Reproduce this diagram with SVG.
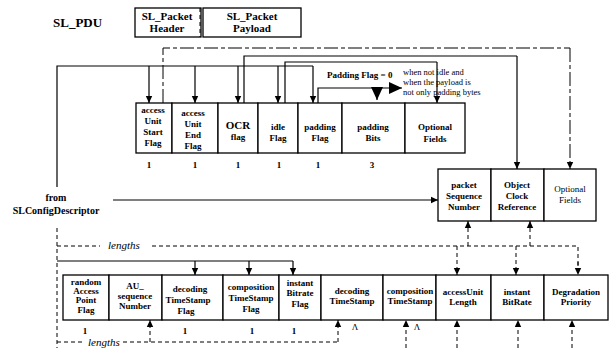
<svg xmlns="http://www.w3.org/2000/svg" width="611" height="348" viewBox="0 0 611 348">
<style>
.bx{fill:#fff;stroke:#000;stroke-width:1.3}
.ln{fill:none;stroke:#000;stroke-width:1.2}
.ds{fill:none;stroke:#000;stroke-width:1;stroke-dasharray:4 3}
.dl{fill:none;stroke:#000;stroke-width:1;stroke-dasharray:14 3 4 3}
.t{font-family:"Liberation Serif",serif;font-size:9px;font-weight:bold;text-anchor:middle;fill:#000}
.n{font-family:"Liberation Serif",serif;font-size:9px;text-anchor:middle;fill:#000}
.it{font-family:"Liberation Serif",serif;font-size:11px;font-style:italic;fill:#000}
</style>
<defs>
<marker id="a" markerUnits="userSpaceOnUse" markerWidth="8" markerHeight="8" refX="7" refY="4" orient="auto"><path d="M0,0.8 L7,4 L0,7.2 Z" fill="#000"/></marker>
<marker id="b" markerUnits="userSpaceOnUse" markerWidth="14" markerHeight="12" refX="13" refY="6" orient="auto"><path d="M0,0 L13,6 L0,12 Z" fill="#000"/></marker>
</defs>

<text x="53" y="27" style="font-family:'Liberation Serif',serif;font-size:13px;font-weight:bold">SL_PDU</text>
<g id="sl_packet_header">
<rect class="bx" x="135" y="8" width="66" height="29"/>
<text class="t" x="167" y="20" style="font-size:11px">SL_Packet</text>
<text class="t" x="167" y="32" style="font-size:11px">Header</text>
</g>
<g id="sl_packet_payload">
<rect class="bx" x="203" y="8" width="98" height="29"/>
<text class="t" x="252" y="20" style="font-size:11px">SL_Packet</text>
<text class="t" x="252" y="32" style="font-size:11px">Payload</text>
</g>

<g id="top_row">
<g id="f_ausf"><rect class="bx" x="136" y="103" width="36" height="50"/>
<text class="t" x="153" y="113">access</text><text class="t" x="153" y="124">Unit</text><text class="t" x="153" y="135">Start</text><text class="t" x="153" y="146">Flag</text></g>
<g id="f_auef"><rect class="bx" x="172" y="103" width="46" height="50"/>
<text class="t" x="193" y="116">access</text><text class="t" x="193" y="127">Unit</text><text class="t" x="193" y="138">End</text><text class="t" x="193" y="149">Flag</text></g>
<g id="f_ocr"><rect class="bx" x="218" y="103" width="40" height="50"/>
<text class="t" x="238" y="129" style="font-size:11px">OCR</text><text class="t" x="238" y="140">flag</text></g>
<g id="f_idle"><rect class="bx" x="258" y="103" width="40" height="50"/>
<text class="t" x="278" y="130">idle</text><text class="t" x="278" y="141">Flag</text></g>
<g id="f_padflag"><rect class="bx" x="298" y="103" width="44" height="50"/>
<text class="t" x="320" y="130">padding</text><text class="t" x="320" y="141">Flag</text></g>
<g id="f_padbits"><rect class="bx" x="342" y="103" width="63" height="50"/>
<text class="t" x="373" y="130">padding</text><text class="t" x="373" y="141">Bits</text></g>
<g id="f_opt1"><rect class="bx" x="405" y="103" width="60" height="50"/>
<text class="t" x="435" y="130">Optional</text><text class="t" x="435" y="142">Fields</text></g>
<text class="t" x="149" y="168">1</text><text class="t" x="195" y="168">1</text><text class="t" x="238" y="168">1</text>
<text class="t" x="279" y="168">1</text><text class="t" x="318" y="168">1</text><text class="t" x="372" y="168">3</text>
</g>

<g id="right_row">
<g id="f_psn"><rect class="bx" x="438" y="169" width="53" height="52"/>
<text class="t" x="464" y="188">packet</text><text class="t" x="464" y="199">Sequence</text><text class="t" x="464" y="210">Number</text></g>
<g id="f_ocref"><rect class="bx" x="491" y="169" width="53" height="52"/>
<text class="t" x="517" y="188">Object</text><text class="t" x="517" y="199">Clock</text><text class="t" x="517" y="210">Reference</text></g>
<g id="f_opt2"><rect class="bx" x="544" y="169" width="52" height="52"/>
<text class="n" x="570" y="192">Optional</text><text class="n" x="570" y="203">Fields</text></g>
</g>

<g id="from_sl">
<text class="t" x="56" y="201" style="font-size:10px">from</text>
<text class="t" x="56" y="214" style="font-size:10px">SLConfigDescriptor</text>
</g>

<g id="bottom_row">
<g id="b_rap"><rect class="bx" x="63" y="275" width="46" height="45"/>
<text class="t" x="86" y="285">random</text><text class="t" x="86" y="294">Access</text><text class="t" x="86" y="303">Point</text><text class="t" x="86" y="313">Flag</text></g>
<g id="b_ausn"><rect class="bx" x="109" y="275" width="53" height="45"/>
<text class="t" x="135" y="289">AU_</text><text class="t" x="135" y="299">sequence</text><text class="t" x="135" y="309">Number</text></g>
<g id="b_dtsf"><rect class="bx" x="162" y="275" width="61" height="45"/>
<text class="t" x="190" y="292">decoding</text><text class="t" x="188" y="303">TimeStamp</text><text class="t" x="186" y="314">Flag</text></g>
<g id="b_ctsf"><rect class="bx" x="223" y="275" width="56" height="45"/>
<text class="t" x="251" y="290">composition</text><text class="t" x="251" y="301">TimeStamp</text><text class="t" x="251" y="312">Flag</text></g>
<g id="b_ibf"><rect class="bx" x="279" y="275" width="42" height="45"/>
<text class="t" x="300" y="286">instant</text><text class="t" x="300" y="296">Bitrate</text><text class="t" x="300" y="307">Flag</text></g>
<g id="b_dts"><rect class="bx" x="321" y="275" width="62" height="45"/>
<text class="t" x="352" y="294">decoding</text><text class="t" x="352" y="304">TimeStamp</text></g>
<g id="b_cts"><rect class="bx" x="383" y="275" width="53" height="45"/>
<text class="t" x="410" y="294">composition</text><text class="t" x="410" y="304">TimeStamp</text></g>
<g id="b_aul"><rect class="bx" x="436" y="275" width="55" height="45"/>
<text class="t" x="463" y="295">accessUnit</text><text class="t" x="463" y="305">Length</text></g>
<g id="b_ibr"><rect class="bx" x="491" y="275" width="53" height="45"/>
<text class="t" x="517" y="295">instant</text><text class="t" x="517" y="305">BitRate</text></g>
<g id="b_dp"><rect class="bx" x="544" y="275" width="64" height="45"/>
<text class="t" x="576" y="295">Degradation</text><text class="t" x="576" y="305">Priority</text></g>
<text class="t" x="85" y="334">1</text><text class="t" x="185" y="334">1</text><text class="t" x="252" y="334">1</text><text class="t" x="294" y="334">1</text>
<text class="n" x="355" y="330">Λ</text><text class="n" x="417" y="330">Λ</text>
</g>

<g id="connectors">
<polyline class="ln" points="57,187 57,66 313,66"/>
<line class="ln" x1="149" y1="66" x2="149" y2="103" marker-end="url(#a)"/>
<line class="ln" x1="195" y1="66" x2="195" y2="103" marker-end="url(#a)"/>
<line class="ln" x1="238" y1="66" x2="238" y2="103" marker-end="url(#a)"/>
<line class="ln" x1="278" y1="66" x2="278" y2="103" marker-end="url(#a)"/>
<line class="ln" x1="313" y1="66" x2="313" y2="103" marker-end="url(#a)"/>
<polyline class="dl" points="163,103 163,48 570,48"/>
<line class="dl" x1="570" y1="48" x2="570" y2="169" marker-end="url(#a)"/>
<polyline class="ln" points="244,103 244,56 517,56"/>
<line class="ln" x1="517" y1="56" x2="517" y2="169" marker-end="url(#a)"/>
<polyline class="ln" points="285,103 285,62 437,62"/>
<line class="ln" x1="437" y1="62" x2="437" y2="103" marker-end="url(#a)"/>
<polyline class="ln" points="318,103 318,88 402,88" marker-end="url(#b)"/>
<line class="ln" x1="377" y1="88" x2="377" y2="100" marker-end="url(#b)"/>
<line class="ln" x1="113" y1="200" x2="438" y2="200" marker-end="url(#a)"/>
<line class="ds" x1="57" y1="228" x2="57" y2="348"/>
<line class="ds" x1="57" y1="246" x2="100" y2="246"/>
<polyline class="ds" points="152,246 578,246 578,275"/>
<line class="ds" x1="468" y1="246" x2="468" y2="221" marker-end="url(#a)"/>
<line class="ds" x1="530" y1="246" x2="530" y2="221" marker-end="url(#a)"/>
<line class="ds" x1="457" y1="246" x2="457" y2="275" marker-end="url(#a)"/>
<line class="ds" x1="516" y1="246" x2="516" y2="275" marker-end="url(#a)"/>
<line class="ds" x1="578" y1="262" x2="578" y2="275" marker-end="url(#a)"/>
<polyline class="ln" points="57,261 293,261"/>
<line class="ln" x1="195" y1="261" x2="195" y2="275" marker-end="url(#a)"/>
<line class="ln" x1="249" y1="261" x2="249" y2="275" marker-end="url(#a)"/>
<line class="ln" x1="293" y1="261" x2="293" y2="275" marker-end="url(#a)"/>
<line class="ds" x1="57" y1="342" x2="85" y2="342"/>
<polyline class="ds" points="123,342 338,342"/>
<line class="ds" x1="150" y1="342" x2="150" y2="320" marker-end="url(#a)"/>
<line class="ds" x1="338" y1="342" x2="338" y2="320" marker-end="url(#a)"/>
<line class="ds" x1="406" y1="348" x2="406" y2="320" marker-end="url(#a)"/>
<line class="ds" x1="457" y1="348" x2="457" y2="320" marker-end="url(#a)"/>
<line class="ds" x1="518" y1="348" x2="518" y2="320" marker-end="url(#a)"/>
<line class="ds" x1="572" y1="348" x2="572" y2="320" marker-end="url(#a)"/>
<line class="ds" x1="200" y1="8" x2="200" y2="37"/>
</g>

<g id="labels">
<text class="it" x="108" y="249">lengths</text>
<text class="it" x="88" y="346">lengths</text>
<text class="t" x="327" y="78" style="text-anchor:start;font-size:9px">Padding Flag = 0</text>
<text class="n" x="403" y="75" style="text-anchor:start;font-size:8.5px">when not idle and</text>
<text class="n" x="403" y="85" style="text-anchor:start;font-size:8.5px">when the payload is</text>
<text class="n" x="403" y="95" style="text-anchor:start;font-size:8.5px">not  only padding bytes</text>
</g>
</svg>
